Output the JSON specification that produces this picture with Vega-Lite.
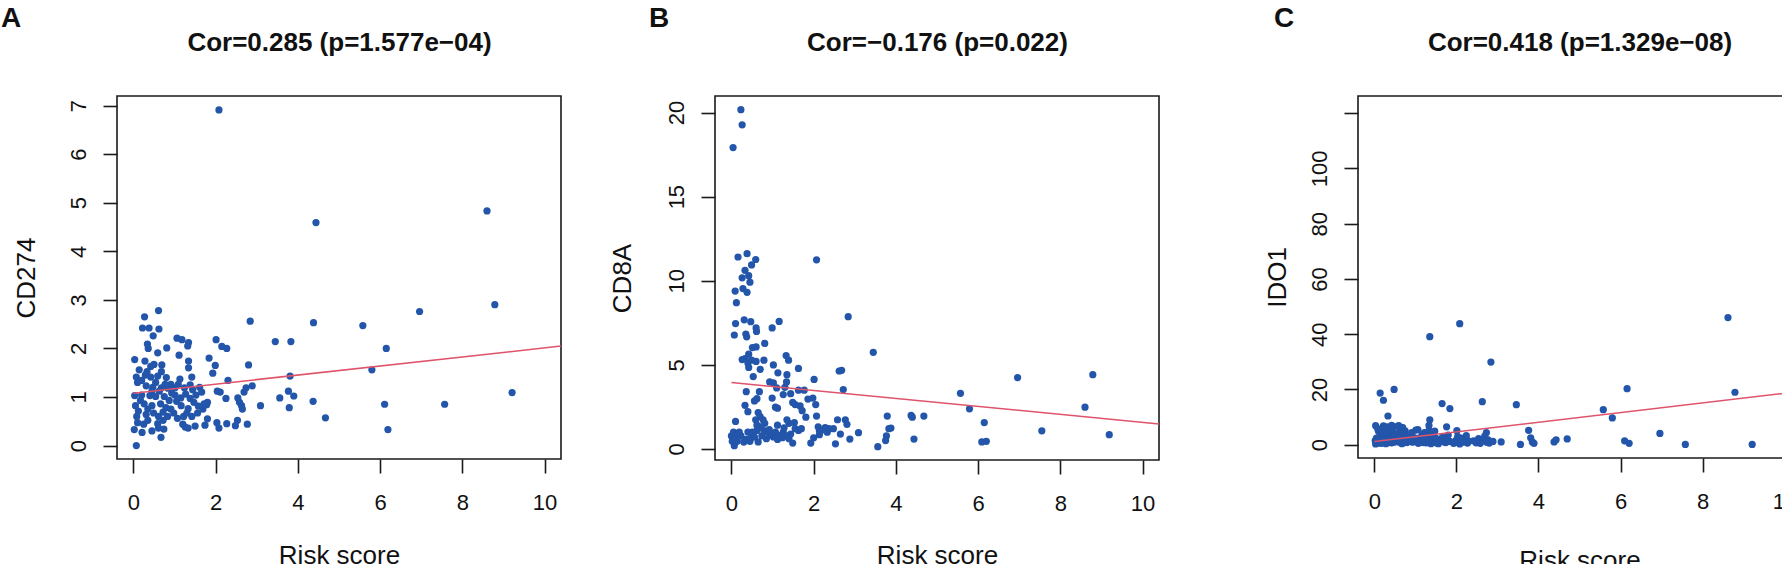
{
  "$schema": "https://vega.github.io/schema/vega-lite/v6.json",
  "background": "white",
  "padding": {"left": 0, "top": 4, "right": 0, "bottom": 0},
  "config": {
    "font": "Liberation Sans",
    "view": {"stroke": "#1a1a1a", "strokeWidth": 1.6},
    "axis": {
      "grid": false, "domain": false,
      "tickSize": 14, "tickWidth": 1.6, "tickColor": "#1a1a1a",
      "labelFont": "Liberation Sans", "labelFontSize": 22, "labelColor": "#111",
      "labelFlush": false, "labelOverlap": false,
      "titleFont": "Liberation Sans", "titleFontSize": 26, "titleFontWeight": "normal",
      "titleColor": "#111", "titleBaseline": "alphabetic"
    },
    "axisX": {"labelBaseline": "alphabetic", "labelPadding": 36, "labelAngle": 0},
    "axisY": {"labelAngle": -90, "labelAlign": "center", "labelBaseline": "alphabetic", "labelPadding": 18, "titleAngle": -90},
    "title": {"font": "Liberation Sans", "fontSize": 28, "fontWeight": "bold", "color": "#111", "anchor": "start", "frame": "group", "baseline": "alphabetic"}
  },
  "datasets": {
    "cd274": [
      {"risk": 2.08, "value": 6.91}, {"risk": 8.60, "value": 4.83}, {"risk": 4.44, "value": 4.59}, {"risk": 8.79, "value": 2.90},
      {"risk": 6.96, "value": 2.76}, {"risk": 2.84, "value": 2.56}, {"risk": 4.38, "value": 2.53}, {"risk": 5.58, "value": 2.47},
      {"risk": 3.45, "value": 2.14}, {"risk": 3.83, "value": 2.14}, {"risk": 6.15, "value": 2.00}, {"risk": 5.80, "value": 1.56},
      {"risk": 2.80, "value": 1.66}, {"risk": 3.81, "value": 1.43}, {"risk": 2.30, "value": 1.34}, {"risk": 2.89, "value": 1.23},
      {"risk": 9.21, "value": 1.09}, {"risk": 3.77, "value": 1.12}, {"risk": 3.90, "value": 1.02}, {"risk": 3.56, "value": 0.98},
      {"risk": 4.37, "value": 0.91}, {"risk": 3.09, "value": 0.82}, {"risk": 3.79, "value": 0.78}, {"risk": 6.11, "value": 0.85},
      {"risk": 7.57, "value": 0.85}, {"risk": 4.67, "value": 0.57}, {"risk": 6.19, "value": 0.33}, {"risk": 2.01, "value": 2.18},
      {"risk": 2.15, "value": 2.04}, {"risk": 2.27, "value": 2.00}, {"risk": 1.84, "value": 1.80}, {"risk": 1.99, "value": 1.65},
      {"risk": 1.93, "value": 1.49}, {"risk": 2.04, "value": 1.12}, {"risk": 2.11, "value": 1.10}, {"risk": 2.25, "value": 0.97},
      {"risk": 2.54, "value": 0.98}, {"risk": 2.58, "value": 0.89}, {"risk": 2.63, "value": 0.82}, {"risk": 2.65, "value": 0.75},
      {"risk": 2.69, "value": 1.10}, {"risk": 2.74, "value": 1.19}, {"risk": 2.03, "value": 0.47}, {"risk": 2.08, "value": 0.36},
      {"risk": 2.27, "value": 0.45}, {"risk": 2.48, "value": 0.41}, {"risk": 2.53, "value": 0.52}, {"risk": 2.77, "value": 0.44},
      {"risk": 1.74, "value": 0.42}, {"risk": 1.80, "value": 0.55},
      {"risk": 0.27, "value": 2.65}, {"risk": 0.61, "value": 2.78}, {"risk": 0.22, "value": 2.42}, {"risk": 0.38, "value": 2.42},
      {"risk": 0.62, "value": 2.40}, {"risk": 0.48, "value": 2.26}, {"risk": 0.34, "value": 2.09}, {"risk": 0.36, "value": 2.00},
      {"risk": 0.59, "value": 1.91}, {"risk": 0.81, "value": 2.01}, {"risk": 1.06, "value": 2.21}, {"risk": 1.18, "value": 2.18},
      {"risk": 1.34, "value": 2.12}, {"risk": 1.32, "value": 2.05}, {"risk": 1.11, "value": 1.86}, {"risk": 1.34, "value": 1.74},
      {"risk": 1.34, "value": 1.60}, {"risk": 0.03, "value": 1.77}, {"risk": 0.28, "value": 1.74}, {"risk": 0.14, "value": 1.56},
      {"risk": 0.42, "value": 1.63}, {"risk": 0.50, "value": 1.67}, {"risk": 0.69, "value": 1.66}, {"risk": 0.07, "value": 1.41},
      {"risk": 0.10, "value": 1.30}, {"risk": 0.29, "value": 1.45}, {"risk": 0.42, "value": 1.41}, {"risk": 0.59, "value": 1.43},
      {"risk": 0.80, "value": 1.40}, {"risk": 0.31, "value": 1.23}, {"risk": 0.47, "value": 1.20}, {"risk": 0.68, "value": 1.19},
      {"risk": 0.91, "value": 1.26}, {"risk": 1.09, "value": 1.26}, {"risk": 1.24, "value": 1.19}, {"risk": 1.44, "value": 1.15},
      {"risk": 1.61, "value": 1.20}, {"risk": 0.03, "value": 1.03}, {"risk": 0.20, "value": 1.04}, {"risk": 0.40, "value": 1.03},
      {"risk": 0.54, "value": 1.01}, {"risk": 0.75, "value": 1.01}, {"risk": 0.93, "value": 1.08}, {"risk": 1.01, "value": 1.04},
      {"risk": 1.27, "value": 1.06}, {"risk": 1.52, "value": 1.04}, {"risk": 1.66, "value": 1.10}, {"risk": 0.05, "value": 0.82},
      {"risk": 0.26, "value": 0.86}, {"risk": 0.45, "value": 0.82}, {"risk": 0.66, "value": 0.86}, {"risk": 0.79, "value": 0.78},
      {"risk": 1.05, "value": 0.91}, {"risk": 1.16, "value": 0.82}, {"risk": 1.33, "value": 0.76}, {"risk": 1.47, "value": 0.89},
      {"risk": 1.72, "value": 0.86}, {"risk": 1.78, "value": 0.84}, {"risk": 0.08, "value": 0.60}, {"risk": 0.31, "value": 0.64},
      {"risk": 0.49, "value": 0.67}, {"risk": 0.61, "value": 0.60}, {"risk": 0.72, "value": 0.69}, {"risk": 0.83, "value": 0.60},
      {"risk": 1.07, "value": 0.56}, {"risk": 1.22, "value": 0.60}, {"risk": 1.42, "value": 0.60}, {"risk": 1.56, "value": 0.67},
      {"risk": 0.10, "value": 0.47}, {"risk": 0.25, "value": 0.44}, {"risk": 0.35, "value": 0.52}, {"risk": 0.59, "value": 0.45},
      {"risk": 0.72, "value": 0.52}, {"risk": 1.20, "value": 0.44}, {"risk": 0.02, "value": 0.33}, {"risk": 0.21, "value": 0.27},
      {"risk": 0.45, "value": 0.30}, {"risk": 0.61, "value": 0.36}, {"risk": 0.74, "value": 0.34}, {"risk": 1.26, "value": 0.38},
      {"risk": 1.33, "value": 0.36}, {"risk": 1.50, "value": 0.40}, {"risk": 0.07, "value": 0.00}, {"risk": 0.67, "value": 0.17},
      {"risk": 0.17, "value": 0.93}, {"risk": 0.87, "value": 0.93}, {"risk": 1.15, "value": 0.98}, {"risk": 1.38, "value": 0.97},
      {"risk": 0.35, "value": 0.75}, {"risk": 0.91, "value": 0.75}, {"risk": 1.58, "value": 0.81}, {"risk": 0.12, "value": 0.71},
      {"risk": 0.98, "value": 0.67}, {"risk": 1.30, "value": 0.67}, {"risk": 0.54, "value": 1.30}, {"risk": 0.77, "value": 1.26},
      {"risk": 0.20, "value": 1.34}, {"risk": 1.01, "value": 1.19}, {"risk": 1.38, "value": 1.25}, {"risk": 1.80, "value": 0.89},
      {"risk": 1.69, "value": 0.75}, {"risk": 0.68, "value": 1.52}, {"risk": 0.33, "value": 1.52}, {"risk": 0.45, "value": 1.12},
      {"risk": 0.63, "value": 1.12}, {"risk": 0.84, "value": 1.18}, {"risk": 1.13, "value": 1.37}, {"risk": 1.42, "value": 1.41}
    ],
    "cd8a": [
      {"risk": 9.19, "value": 0.84}, {"risk": 8.79, "value": 4.41}, {"risk": 8.60, "value": 2.48}, {"risk": 7.55, "value": 1.07},
      {"risk": 6.96, "value": 4.24}, {"risk": 6.15, "value": 1.56}, {"risk": 6.09, "value": 0.41}, {"risk": 6.20, "value": 0.45},
      {"risk": 5.79, "value": 2.38}, {"risk": 5.57, "value": 3.30}, {"risk": 4.68, "value": 1.95}, {"risk": 4.44, "value": 0.58},
      {"risk": 4.37, "value": 1.99}, {"risk": 4.40, "value": 1.88}, {"risk": 3.88, "value": 1.24}, {"risk": 3.79, "value": 1.95},
      {"risk": 3.77, "value": 0.77}, {"risk": 3.75, "value": 0.49}, {"risk": 3.83, "value": 1.20}, {"risk": 3.56, "value": 0.13},
      {"risk": 3.45, "value": 5.74}, {"risk": 3.09, "value": 0.96}, {"risk": 2.88, "value": 0.58}, {"risk": 2.84, "value": 7.86},
      {"risk": 2.81, "value": 1.46}, {"risk": 2.77, "value": 1.73}, {"risk": 2.72, "value": 3.53}, {"risk": 2.62, "value": 4.63},
      {"risk": 2.68, "value": 4.67}, {"risk": 2.58, "value": 1.73}, {"risk": 2.65, "value": 0.88}, {"risk": 2.53, "value": 0.30},
      {"risk": 2.48, "value": 1.20}, {"risk": 2.07, "value": 11.24}, {"risk": 2.01, "value": 4.13}, {"risk": 1.98, "value": 3.02},
      {"risk": 2.05, "value": 2.63}, {"risk": 2.07, "value": 1.95}, {"risk": 1.93, "value": 0.34}, {"risk": 2.00, "value": 0.66},
      {"risk": 2.14, "value": 0.84}, {"risk": 2.11, "value": 1.31}, {"risk": 2.23, "value": 1.13}, {"risk": 2.33, "value": 0.99},
      {"risk": 2.28, "value": 1.26}, {"risk": 2.37, "value": 1.20}, {"risk": 2.14, "value": 1.09},
      {"risk": 0.23, "value": 20.17}, {"risk": 0.26, "value": 19.27}, {"risk": 0.04, "value": 17.92},
      {"risk": 0.16, "value": 11.41}, {"risk": 0.38, "value": 11.61}, {"risk": 0.59, "value": 11.26}, {"risk": 0.49, "value": 10.94},
      {"risk": 0.33, "value": 10.62}, {"risk": 0.26, "value": 10.17}, {"risk": 0.42, "value": 10.30}, {"risk": 0.45, "value": 9.91},
      {"risk": 0.09, "value": 9.38}, {"risk": 0.28, "value": 9.53}, {"risk": 0.38, "value": 9.31}, {"risk": 0.12, "value": 8.69},
      {"risk": 0.10, "value": 7.45}, {"risk": 0.31, "value": 7.67}, {"risk": 0.47, "value": 7.56}, {"risk": 0.07, "value": 6.77},
      {"risk": 0.35, "value": 6.83}, {"risk": 0.37, "value": 6.66}, {"risk": 0.60, "value": 7.19}, {"risk": 0.61, "value": 6.98},
      {"risk": 0.99, "value": 7.19}, {"risk": 1.16, "value": 7.58},
      {"risk": 0.81, "value": 6.27}, {"risk": 0.51, "value": 6.02}, {"risk": 0.60, "value": 6.06}, {"risk": 0.42, "value": 5.63},
      {"risk": 0.33, "value": 5.37}, {"risk": 0.26, "value": 5.31}, {"risk": 0.40, "value": 5.10}, {"risk": 0.49, "value": 5.27},
      {"risk": 0.60, "value": 5.20}, {"risk": 0.42, "value": 4.84}, {"risk": 0.70, "value": 4.73}, {"risk": 0.79, "value": 5.27},
      {"risk": 0.53, "value": 4.30},
      {"risk": 1.02, "value": 4.99}, {"risk": 1.13, "value": 4.52}, {"risk": 1.33, "value": 5.55}, {"risk": 1.39, "value": 5.27},
      {"risk": 1.35, "value": 4.41}, {"risk": 1.63, "value": 4.78}, {"risk": 1.34, "value": 3.98},
      {"risk": 0.93, "value": 3.98}, {"risk": 1.02, "value": 3.92}, {"risk": 1.30, "value": 3.66}, {"risk": 1.44, "value": 3.28},
      {"risk": 1.26, "value": 3.23}, {"risk": 1.10, "value": 3.62}, {"risk": 1.63, "value": 3.49}, {"risk": 1.77, "value": 3.49},
      {"risk": 1.86, "value": 2.96},
      {"risk": 0.36, "value": 3.40}, {"risk": 0.68, "value": 3.40}, {"risk": 0.56, "value": 2.85}, {"risk": 0.62, "value": 2.98},
      {"risk": 0.33, "value": 2.59}, {"risk": 0.40, "value": 2.21}, {"risk": 0.99, "value": 3.02}, {"risk": 1.07, "value": 2.48},
      {"risk": 1.12, "value": 2.42}, {"risk": 1.49, "value": 2.76}, {"risk": 1.55, "value": 2.63}, {"risk": 1.67, "value": 2.55},
      {"risk": 1.72, "value": 2.27}, {"risk": 1.81, "value": 1.88},
      {"risk": 0.65, "value": 2.16}, {"risk": 0.70, "value": 1.91}, {"risk": 0.77, "value": 1.73}, {"risk": 0.59, "value": 1.73},
      {"risk": 0.81, "value": 1.52}, {"risk": 0.62, "value": 1.41}, {"risk": 0.10, "value": 1.63}, {"risk": 1.12, "value": 1.41},
      {"risk": 1.35, "value": 1.73}, {"risk": 1.40, "value": 1.52}, {"risk": 1.53, "value": 1.56}, {"risk": 1.63, "value": 1.09},
      {"risk": 1.44, "value": 0.88},
      {"risk": 0.00, "value": 0.77}, {"risk": 0.07, "value": 0.19}, {"risk": 0.14, "value": 0.45}, {"risk": 0.23, "value": 0.77},
      {"risk": 0.35, "value": 0.56}, {"risk": 0.45, "value": 0.45}, {"risk": 0.65, "value": 0.41}, {"risk": 0.74, "value": 0.77},
      {"risk": 0.88, "value": 0.99}, {"risk": 1.02, "value": 0.71}, {"risk": 1.12, "value": 0.56}, {"risk": 1.24, "value": 0.66},
      {"risk": 1.33, "value": 0.77}, {"risk": 1.49, "value": 0.34}, {"risk": 0.05, "value": 0.99}, {"risk": 0.19, "value": 0.99},
      {"risk": 0.51, "value": 0.99}, {"risk": 0.79, "value": 1.09}, {"risk": 1.07, "value": 0.99}, {"risk": 1.26, "value": 0.99},
      {"risk": 0.62, "value": 1.09}, {"risk": 0.47, "value": 0.66},
      {"risk": 0.02, "value": 0.45}, {"risk": 0.30, "value": 0.40}, {"risk": 0.56, "value": 0.70}, {"risk": 0.85, "value": 0.60},
      {"risk": 0.95, "value": 0.85}, {"risk": 1.18, "value": 0.80}, {"risk": 1.40, "value": 0.60}, {"risk": 1.55, "value": 1.20},
      {"risk": 1.70, "value": 1.20}, {"risk": 0.15, "value": 0.70}, {"risk": 0.70, "value": 1.30}, {"risk": 0.92, "value": 1.15},
      {"risk": 1.28, "value": 1.25}, {"risk": 0.40, "value": 1.00}
    ],
    "ido1": [
      {"risk": 8.62, "value": 46.0}, {"risk": 2.08, "value": 43.8}, {"risk": 1.35, "value": 39.1}, {"risk": 2.84, "value": 29.9},
      {"risk": 6.16, "value": 20.3}, {"risk": 0.48, "value": 20.0}, {"risk": 0.14, "value": 18.7}, {"risk": 8.79, "value": 19.0},
      {"risk": 0.22, "value": 16.1}, {"risk": 2.63, "value": 15.6}, {"risk": 1.65, "value": 14.9}, {"risk": 3.46, "value": 14.5},
      {"risk": 1.84, "value": 13.1}, {"risk": 5.58, "value": 12.7}, {"risk": 0.33, "value": 10.4}, {"risk": 5.80, "value": 9.7},
      {"risk": 1.35, "value": 9.0}, {"risk": 1.33, "value": 7.0}, {"risk": 1.76, "value": 6.5}, {"risk": 3.76, "value": 5.2},
      {"risk": 2.01, "value": 5.1}, {"risk": 6.96, "value": 4.1}, {"risk": 2.73, "value": 4.4}, {"risk": 3.81, "value": 2.5},
      {"risk": 4.70, "value": 2.1}, {"risk": 4.38, "value": 1.0}, {"risk": 4.43, "value": 1.8}, {"risk": 6.10, "value": 1.4},
      {"risk": 6.21, "value": 0.5}, {"risk": 7.58, "value": 0.1}, {"risk": 9.21, "value": 0.1}, {"risk": 3.56, "value": 0.1},
      {"risk": 3.09, "value": 1.0}, {"risk": 3.89, "value": 0.5}, {"risk": 3.85, "value": 1.0},
      {"risk": 0.27, "value": 1.2}, {"risk": 0.61, "value": 3.5}, {"risk": 0.22, "value": 6.8}, {"risk": 0.38, "value": 2.1},
      {"risk": 0.62, "value": 5.9}, {"risk": 0.48, "value": 0.9}, {"risk": 0.34, "value": 4.4}, {"risk": 0.36, "value": 6.3},
      {"risk": 0.59, "value": 1.5}, {"risk": 0.81, "value": 2.9}, {"risk": 1.06, "value": 5.5}, {"risk": 1.18, "value": 0.8},
      {"risk": 1.34, "value": 2.2}, {"risk": 1.32, "value": 3.1}, {"risk": 1.11, "value": 1.4}, {"risk": 1.34, "value": 4.6},
      {"risk": 1.36, "value": 0.6}, {"risk": 0.03, "value": 6.9}, {"risk": 0.28, "value": 0.4}, {"risk": 0.14, "value": 3.3},
      {"risk": 0.42, "value": 7.0}, {"risk": 0.50, "value": 2.6}, {"risk": 0.69, "value": 6.2}, {"risk": 0.07, "value": 1.8},
      {"risk": 0.10, "value": 4.9}, {"risk": 0.29, "value": 5.6}, {"risk": 0.42, "value": 0.7}, {"risk": 0.59, "value": 4.1},
      {"risk": 0.80, "value": 1.1}, {"risk": 0.31, "value": 2.9}, {"risk": 0.47, "value": 6.6}, {"risk": 0.68, "value": 0.5},
      {"risk": 0.91, "value": 3.8}, {"risk": 1.09, "value": 2.4}, {"risk": 1.24, "value": 1.0}, {"risk": 1.44, "value": 3.4},
      {"risk": 1.61, "value": 1.6}, {"risk": 0.03, "value": 0.3}, {"risk": 0.20, "value": 1.0}, {"risk": 0.40, "value": 4.2},
      {"risk": 0.54, "value": 1.9}, {"risk": 0.75, "value": 5.0}, {"risk": 0.93, "value": 0.9}, {"risk": 1.01, "value": 5.3},
      {"risk": 1.27, "value": 2.7}, {"risk": 1.52, "value": 0.6}, {"risk": 1.66, "value": 2.8}, {"risk": 0.05, "value": 2.4},
      {"risk": 0.26, "value": 3.9}, {"risk": 0.45, "value": 1.3}, {"risk": 0.66, "value": 6.3}, {"risk": 0.79, "value": 0.8},
      {"risk": 1.05, "value": 1.7}, {"risk": 1.16, "value": 3.6}, {"risk": 1.33, "value": 1.2}, {"risk": 1.47, "value": 4.9},
      {"risk": 1.72, "value": 0.9}, {"risk": 1.78, "value": 1.6}, {"risk": 0.08, "value": 5.8}, {"risk": 0.31, "value": 6.5},
      {"risk": 0.49, "value": 3.0}, {"risk": 0.61, "value": 0.9}, {"risk": 0.72, "value": 4.7}, {"risk": 0.83, "value": 2.2},
      {"risk": 1.07, "value": 0.5}, {"risk": 1.22, "value": 4.4}, {"risk": 1.42, "value": 1.8}, {"risk": 1.56, "value": 0.4},
      {"risk": 0.10, "value": 0.6}, {"risk": 0.25, "value": 2.3}, {"risk": 0.35, "value": 0.8}, {"risk": 0.59, "value": 6.9},
      {"risk": 0.72, "value": 1.4}, {"risk": 1.20, "value": 2.0}, {"risk": 0.02, "value": 1.5}, {"risk": 0.21, "value": 4.7},
      {"risk": 0.45, "value": 5.2}, {"risk": 0.61, "value": 2.6}, {"risk": 0.74, "value": 3.2}, {"risk": 1.26, "value": 0.7},
      {"risk": 1.33, "value": 5.1}, {"risk": 1.50, "value": 2.3}, {"risk": 0.07, "value": 0.9}, {"risk": 0.67, "value": 0.4},
      {"risk": 0.45, "value": 3.7}, {"risk": 0.17, "value": 0.5}, {"risk": 0.87, "value": 1.5}, {"risk": 1.15, "value": 1.1},
      {"risk": 1.38, "value": 0.4}, {"risk": 0.35, "value": 1.6}, {"risk": 0.91, "value": 4.4}, {"risk": 1.58, "value": 1.2},
      {"risk": 0.12, "value": 2.0}, {"risk": 0.98, "value": 2.5}, {"risk": 1.30, "value": 3.0},
      {"risk": 1.84, "value": 1.2}, {"risk": 1.93, "value": 0.5}, {"risk": 1.99, "value": 1.6}, {"risk": 2.04, "value": 0.8},
      {"risk": 2.11, "value": 2.4}, {"risk": 2.15, "value": 0.9}, {"risk": 2.25, "value": 1.9}, {"risk": 2.27, "value": 0.6},
      {"risk": 2.30, "value": 1.3}, {"risk": 2.48, "value": 0.7}, {"risk": 2.53, "value": 1.1}, {"risk": 2.54, "value": 2.2},
      {"risk": 2.58, "value": 0.5}, {"risk": 2.65, "value": 1.5}, {"risk": 2.69, "value": 3.1}, {"risk": 2.74, "value": 0.9},
      {"risk": 2.77, "value": 1.8}, {"risk": 2.80, "value": 0.6}, {"risk": 2.89, "value": 1.2}, {"risk": 2.03, "value": 2.9},
      {"risk": 2.08, "value": 0.3}, {"risk": 1.80, "value": 3.5}, {"risk": 1.74, "value": 0.8}, {"risk": 2.24, "value": 3.3},
      {"risk": 2.42, "value": 1.4}
    ],
    "fit": [
      {"gene": "CD274", "risk": 0, "value": 1.079}, {"gene": "CD274", "risk": 10.4, "value": 2.048},
      {"gene": "CD8A", "risk": 0, "value": 3.94}, {"gene": "CD8A", "risk": 10.4, "value": 1.48},
      {"gene": "IDO1", "risk": 0, "value": 1.17}, {"gene": "IDO1", "risk": 10.4, "value": 19.3}
    ]
  },
  "spacing": 100,
  "hconcat": [
    {
      "spacing": 43,
      "hconcat": [
        {
          "width": 444,
          "height": 363,
          "title": {"text": "A", "dx": -116, "offset": -4},
          "resolve": {"axis": {"x": "independent"}},
          "layer": [
            {
              "data": {"name": "cd274"},
              "mark": {"type": "circle", "size": 52, "opacity": 1, "color": "#2356AA"},
              "encoding": {
                "x": {"field": "risk", "type": "quantitative", "scale": {"domain": [-0.4, 10.4], "nice": false, "zero": false},
                      "axis": {"title": "Risk score", "values": [0, 2, 4, 6, 8, 10], "titleY": 104.6}},
                "y": {"field": "value", "type": "quantitative", "scale": {"domain": [-0.277, 7.197], "nice": false, "zero": false},
                      "axis": {"title": "CD274", "values": [0, 1, 2, 3, 4, 5, 6, 7], "titleX": -82.7}}
              }
            },
            {
              "data": {"name": "fit"},
              "transform": [{"filter": "datum.gene === 'CD274'"}],
              "mark": {"type": "line", "color": "#DF536B", "strokeWidth": 1.5},
              "encoding": {
                "x": {"field": "risk", "type": "quantitative", "scale": {"domain": [-0.4, 10.4], "nice": false, "zero": false},
                      "axis": {"orient": "top", "title": "Cor=0.285 (p=1.577e−04)", "labels": false, "ticks": false,
                               "titleFontSize": 26, "titleFontWeight": "bold", "titleY": -46}},
                "y": {"field": "value", "type": "quantitative", "title": "CD274"}
              }
            }
          ]
        },
        {
          "width": 444,
          "height": 364,
          "title": {"text": "B", "dx": -66, "offset": -4},
          "resolve": {"axis": {"x": "independent"}},
          "layer": [
            {
              "data": {"name": "cd8a"},
              "mark": {"type": "circle", "size": 52, "opacity": 1, "color": "#2356AA"},
              "encoding": {
                "x": {"field": "risk", "type": "quantitative", "scale": {"domain": [-0.4, 10.4], "nice": false, "zero": false},
                      "axis": {"title": "Risk score", "values": [0, 2, 4, 6, 8, 10], "titleY": 103}},
                "y": {"field": "value", "type": "quantitative", "scale": {"domain": [-0.664, 20.985], "nice": false, "zero": false},
                      "axis": {"title": "CD8A", "values": [0, 5, 10, 15, 20], "titleX": -85}}
              }
            },
            {
              "data": {"name": "fit"},
              "transform": [{"filter": "datum.gene === 'CD8A'"}],
              "mark": {"type": "line", "color": "#DF536B", "strokeWidth": 1.5},
              "encoding": {
                "x": {"field": "risk", "type": "quantitative", "scale": {"domain": [-0.4, 10.4], "nice": false, "zero": false},
                      "axis": {"orient": "top", "title": "Cor=−0.176 (p=0.022)", "labels": false, "ticks": false,
                               "titleFontSize": 26, "titleFontWeight": "bold", "titleY": -46}},
                "y": {"field": "value", "type": "quantitative", "title": "CD8A"}
              }
            }
          ]
        }
      ]
    },
    {
      "width": 443,
      "height": 362,
      "title": {"text": "C", "dx": -84, "offset": -4},
      "resolve": {"axis": {"x": "independent"}},
      "layer": [
        {
          "data": {"name": "ido1"},
          "mark": {"type": "circle", "size": 52, "opacity": 1, "color": "#2356AA"},
          "encoding": {
            "x": {"field": "risk", "type": "quantitative", "scale": {"domain": [-0.4, 10.4], "nice": false, "zero": false},
                  "axis": {"title": "Risk score", "values": [0, 2, 4, 6, 8, 10], "titleY": 110}},
            "y": {"field": "value", "type": "quantitative", "scale": {"domain": [-4.8, 126.2], "nice": false, "zero": false},
                  "axis": {"title": "IDO1", "values": [0, 20, 40, 60, 80, 100, 120], "labelExpr": "datum.value == 120 ? '' : datum.label", "titleX": -73}}
          }
        },
        {
          "data": {"name": "fit"},
          "transform": [{"filter": "datum.gene === 'IDO1'"}],
          "mark": {"type": "line", "color": "#DF536B", "strokeWidth": 1.5},
          "encoding": {
            "x": {"field": "risk", "type": "quantitative", "scale": {"domain": [-0.4, 10.4], "nice": false, "zero": false},
                  "axis": {"orient": "top", "title": "Cor=0.418 (p=1.329e−08)", "labels": false, "ticks": false,
                           "titleFontSize": 26, "titleFontWeight": "bold", "titleY": -46}},
            "y": {"field": "value", "type": "quantitative", "title": "IDO1"}
          }
        }
      ]
    }
  ]
}
